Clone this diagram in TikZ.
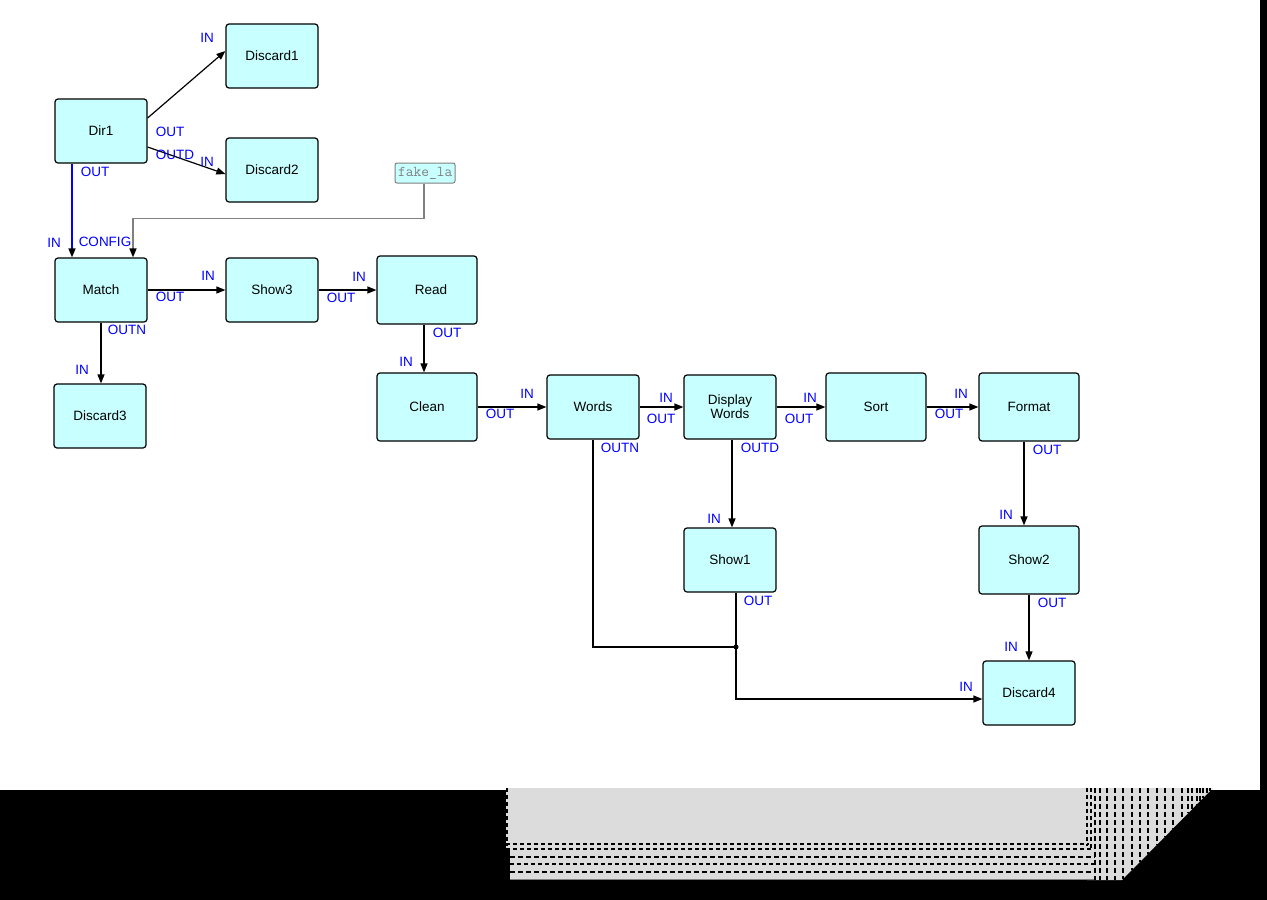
\documentclass[tikz,border=0pt]{standalone}
\usepackage{fontspec}
\setmainfont{Liberation Sans}
\usetikzlibrary{arrows.meta,calc}
\definecolor{boxfill}{RGB}{200,255,255}
\definecolor{portblue}{RGB}{0,0,255}
\definecolor{shadegray}{RGB}{220,220,220}
\definecolor{linkgray}{RGB}{128,128,128}

\begin{document}
\begin{tikzpicture}[x=1pt,y=-1pt,
  blk/.style={draw=black, line width=1.2pt, fill=boxfill, rounded corners=3pt,
    minimum width=92pt, minimum height=64pt, inner sep=0pt, align=center,
    font=\fontsize{13.5}{14}\selectfont},
  wide/.style={blk, minimum width=100pt, minimum height=68pt},
  port/.style={text=portblue, inner sep=0pt, font=\fontsize{13.5}{14}\selectfont},
  link/.style={draw=black, line width=1.2pt, -{Triangle[length=9pt,width=7pt,color=black]}},
  artdash/.style={draw=black, line width=1.8pt, dash pattern=on 4pt off 3pt},
  thindash/.style={draw=black, line width=1.3pt, dash pattern=on 5pt off 3pt}
]
% canvas and frame
\useasboundingbox (0,0) rectangle (1267,900);
\fill[black] (0,0) rectangle (1267,900);
\fill[white] (0,0) rectangle (1260,790);

% stacked grey panel at the bottom
\fill[shadegray] (506,788) rectangle (1091,848);
\fill[shadegray] (510,848) rectangle (1095,880);
\fill[shadegray] (1087,788) -- (1213,788) -- (1122,880) -- (1087,880) -- cycle;
\draw[artdash] (507,788) -- (507,846);
\draw[artdash] (1087,788) -- (1087,846);
\draw[artdash] (1091,788) -- (1091,850);
\draw[artdash] (506,844) -- (1089,844);
\draw[artdash] (506,849) -- (1093,849);
\draw[thindash] (510,857) -- (1095,857);
\draw[artdash] (510,864) -- (1095,864);
\draw[thindash] (510,872) -- (1095,872);
\draw[linkgray, line width=0.8pt] (510,879) -- (1095,879);
\foreach \vx in {1095,1100,1107,1115,1123,1132,1140,1148,1157,1165,1173,1182,1188,1192,1197,1200,1203,1207,1210} {
  \pgfmathsetmacro{\vy}{min(880, 880-(\vx-1122)*92/91)}
  \draw[line width=1.6pt, dash pattern=on 5pt off 3pt] (\vx,788) -- (\vx,\vy);
}

% process blocks
\node[blk] (disc1) at (272,56) {Discard1};
\node[blk] (dir1) at (101,131) {Dir1};
\node[blk] (disc2) at (272,170) {Discard2};
\node[blk] (match) at (101,290) {Match};
\node[blk] (show3) at (272,290) {Show3};
\node[wide] (read) at (427,290) {\hspace*{8pt}Read};
\node[blk] (disc3) at (100,416) {Discard3};
\node[wide] (clean) at (427,407) {Clean};
\node[blk] (words) at (593,407) {Words};
\node[blk] (dispw) at (730,407) {Display\\Words};
\node[wide] (sort) at (876,407) {Sort};
\node[wide] (format) at (1029,407) {Format};
\node[blk] (show1) at (730,560) {Show1};
\node[wide] (show2) at (1029,560) {Show2};
\node[blk] (disc4) at (1029,693) {Discard4};

% config source
\node[draw=linkgray, fill=boxfill, rounded corners=2pt, minimum width=60pt,
  minimum height=20pt, line width=1pt, inner sep=0pt] (fake) at (425,173) {};
\begin{scope}
  \clip (fake.south west) rectangle (fake.north east);
  \node[anchor=west, text=linkgray, inner sep=0pt,
    font=\ttfamily\fontsize{15}{16}\selectfont] (fakelbl) at (398,173) {fake\_la};
\end{scope}

% connectors
\draw[link] ($(dir1.east)+(0,-13)$) -- ($(disc1.west)+(0,-5)$);
\draw[link] ($(dir1.east)+(0,16)$) -- ($(disc2.west)+(0,4)$);
\draw[link, draw=portblue, line width=1.5pt] ($(dir1.south)+(-29,0)$) -- ($(match.north)+(-29,0)$);
\draw[link, draw=linkgray, line width=1.5pt] ($(fake.south)+(-1,0)$) -- ++(0,35) -| ($(match.north)+(32,0)$);
\draw[link] (match.east) -- (show3.west);
\draw[link] (show3.east) -- (read.west);
\draw[link] (match.south) -- (match.south |- disc3.north);
\draw[link] ($(read.south)+(-3,0)$) -- ($(clean.north)+(-3,0)$);
\draw[link] (clean.east) -- (words.west);
\draw[link] (words.east) -- (dispw.west);
\draw[link] (dispw.east) -- (sort.west);
\draw[link] (sort.east) -- (format.west);
\draw[link] ($(format.south)+(-5,0)$) -- ($(show2.north)+(-5,0)$);
\draw[link] ($(dispw.south)+(2,0)$) -- ($(show1.north)+(2,0)$);
\draw[link] (show2.south) -- (disc4.north);
\coordinate (junc) at (736,647);
\draw[line width=1.2pt] (words.south) |- (junc);
\draw[link] ($(show1.south)+(6,0)$) |- ($(disc4.west)+(0,6)$);
\fill (junc) circle (2.5pt);

% port labels
\node[port] (p1) at (207,38) {IN};
\node[port] (p2) at (170,132) {OUT};
\node[port] (p3) at (175,155) {OUTD};
\node[port] (p4) at (207,162) {IN};
\node[port] (p5) at (95,172) {OUT};
\node[port] (p6) at (54,243) {IN};
\node[port] (p7) at (105,242) {CONFIG};
\node[port] (p8) at (170,297) {OUT};
\node[port] (p9) at (208,276) {IN};
\node[port] (p10) at (341,298) {OUT};
\node[port] (p11) at (359,277) {IN};
\node[port] (p12) at (127,330) {OUTN};
\node[port] (p13) at (82,370) {IN};
\node[port] (p14) at (447,333) {OUT};
\node[port] (p15) at (406,362) {IN};
\node[port] (p16) at (500,414) {OUT};
\node[port] (p17) at (527,394) {IN};
\node[port] (p18) at (661,419) {OUT};
\node[port] (p19) at (666,398) {IN};
\node[port] (p20) at (620,448) {OUTN};
\node[port] (p21) at (760,448) {OUTD};
\node[port] (p22) at (799,419) {OUT};
\node[port] (p23) at (810,398) {IN};
\node[port] (p24) at (949,414) {OUT};
\node[port] (p25) at (961,394) {IN};
\node[port] (p26) at (1047,450) {OUT};
\node[port] (p27) at (1006,515) {IN};
\node[port] (p28) at (714,519) {IN};
\node[port] (p29) at (758,601) {OUT};
\node[port] (p30) at (1052,603) {OUT};
\node[port] (p31) at (1011,647) {IN};
\node[port] (p32) at (966,687) {IN};
\end{tikzpicture}
\end{document}
